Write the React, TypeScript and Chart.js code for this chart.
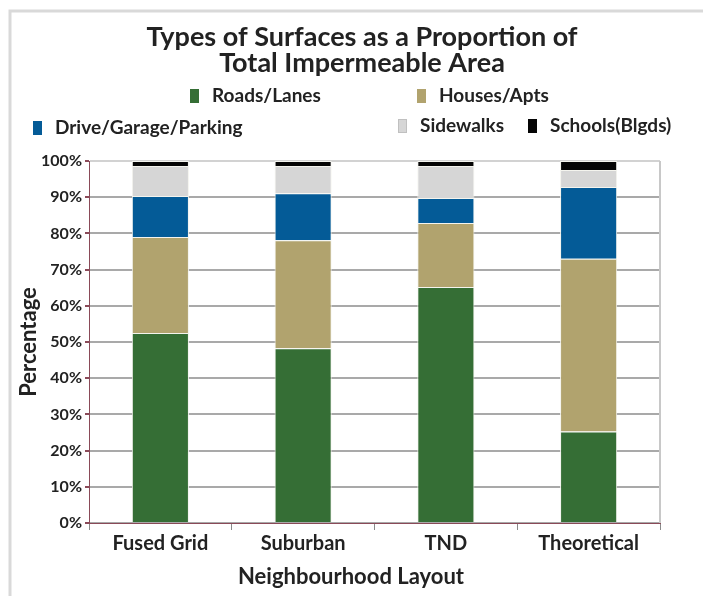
import React, { useEffect, useRef } from "react";
import { Chart, registerables } from "chart.js";

Chart.register(...registerables);

const categories = ["Fused Grid", "Suburban", "TND", "Theoretical"];
const seriesNames = ["Roads/Lanes", "Houses/Apts", "Drive/Garage/Parking", "Sidewalks", "Schools(Blgds)"];
const roads = [52.5, 48.3, 65.2, 25.3];
const houses = [26.5, 29.8, 17.7, 47.7];
const drive = [11.3, 13.0, 6.9, 19.8];
const sidewalks = [8.3, 7.5, 8.8, 4.7];
const schools = [1.4, 1.4, 1.4, 2.5];
const yTicks = [0, 10, 20, 30, 40, 50, 60, 70, 80, 90, 100];
const titleLines = ["Types of Surfaces as a Proportion of", "Total Impermeable Area"];
const xTitle = "Neighbourhood Layout";

const colors = ["#356e35", "#b1a36e", "#045b97", "#d6d6d6", "#050505"];
const FONT = "Lato, 'Open Sans', sans-serif";
const TEXT = "#222222";

// legend item placement (layout only)
const legendPos = [
  { x: 190, y: 96 },
  { x: 417, y: 96 },
  { x: 33, y: 128 },
  { x: 398, y: 126 },
  { x: 528, y: 126 },
];

const headerPlugin = {
  id: "header",
  beforeDraw(chart: any) {
    const ctx = chart.ctx;
    ctx.save();
    ctx.fillStyle = "#ffffff";
    ctx.fillRect(0, 0, chart.width, chart.height);
    ctx.strokeStyle = "#d9d9d9";
    ctx.lineWidth = 3;
    ctx.beginPath();
    ctx.moveTo(10, chart.height);
    ctx.lineTo(10, 11);
    ctx.lineTo(chart.width, 11);
    ctx.stroke();
    ctx.restore();
  },
  afterDraw(chart: any) {
    const ctx = chart.ctx;
    const ca = chart.chartArea;
    ctx.save();
    ctx.strokeStyle = "#c8c8c8";
    ctx.lineWidth = 2;
    ctx.beginPath();
    ctx.moveTo(ca.right, ca.top);
    ctx.lineTo(ca.right, ca.bottom);
    ctx.stroke();
    ctx.fillStyle = TEXT;
    ctx.font = `bold 27px ${FONT}`;
    ctx.textAlign = "center";
    ctx.textBaseline = "middle";
    titleLines.forEach((t, i) => ctx.fillText(t, 362, 37 + i * 26));
    ctx.font = `bold 22px ${FONT}`;
    ctx.fillText(xTitle, 351, 577);
    ctx.textAlign = "left";
    ctx.font = `bold 19px ${FONT}`;
    chart.data.datasets.forEach((ds: any, i: number) => {
      const p = legendPos[i];
      ctx.fillStyle = ds.backgroundColor;
      ctx.fillRect(p.x, p.y - 7, 9, 14);
      if (i === 3) {
        ctx.strokeStyle = "#c0c0c0";
        ctx.lineWidth = 1;
        ctx.strokeRect(p.x + 0.5, p.y - 6.5, 8, 13);
      }
      ctx.fillStyle = TEXT;
      ctx.fillText(ds.label, p.x + 22, p.y);
    });
    ctx.restore();
  },
};

export default function App() {
  const ref = useRef<HTMLCanvasElement>(null);
  useEffect(() => {
    document.body.style.margin = "0";
    const values = [roads, houses, drive, sidewalks, schools];
    const chart = new Chart(ref.current as HTMLCanvasElement, {
      type: "bar",
      data: {
        labels: categories,
        datasets: seriesNames.map((name, i) => ({
          label: name,
          data: values[i],
          backgroundColor: colors[i],
          borderColor: "#f4f4ee",
          borderWidth: 1,
          categoryPercentage: 1,
          barPercentage: 0.4,
        })),
      },
      options: {
        responsive: false,
        animation: false,
        devicePixelRatio: 1,
        layout: { padding: { top: 161, left: 10, right: 43, bottom: 0 } },
        plugins: {
          legend: { display: false },
          title: { display: false },
          tooltip: { enabled: false },
        },
        scales: {
          x: {
            stacked: true,
            grid: {
              offset: true,
              drawOnChartArea: false,
              drawTicks: true,
              tickLength: 7,
              color: "#8a8a8a",
              lineWidth: 1,
            },
            border: { color: "#8a4a58", width: 1 },
            ticks: {
              color: TEXT,
              font: { family: FONT, size: 20, weight: "bold" },
              padding: 2,
            },
            afterFit(scale: any) {
              scale.height = 73;
            },
          },
          y: {
            stacked: true,
            min: 0,
            max: 100,
            afterBuildTicks(scale: any) {
              scale.ticks = yTicks.map((v) => ({ value: v }));
            },
            grid: {
              color: (c: any) => (c.tick && c.tick.value === 100 ? "#d2d2d2" : "#a9a9a9"),
              lineWidth: 2,
              tickLength: 4,
              tickColor: "#8a4a58",
            },
            border: { color: "#8a4a58", width: 1 },
            ticks: {
              color: TEXT,
              font: { family: FONT, size: 16, weight: "bold" },
              padding: 3,
              callback: (v: any) => v + "%",
            },
            title: {
              display: true,
              text: "Percentage",
              color: TEXT,
              font: { family: FONT, size: 22, weight: "bold" },
              padding: { top: 6, bottom: 0 },
            },
            afterFit(scale: any) {
              scale.width = 79;
            },
          },
        },
      },
      plugins: [headerPlugin],
    } as any);
    return () => chart.destroy();
  }, []);
  return (
    <div style={{ position: "absolute", left: 0, top: 0, width: 703, height: 596 }}>
      <canvas ref={ref} width={703} height={596} />
    </div>
  );
}
